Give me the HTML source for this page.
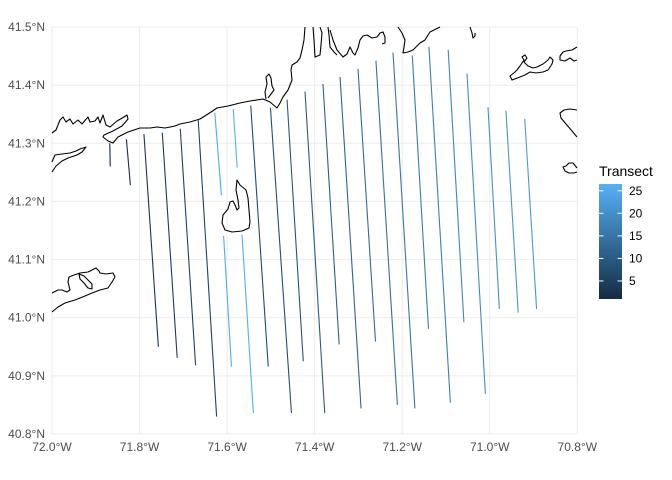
<!DOCTYPE html>
<html><head><meta charset="utf-8"><style>
body{margin:0;background:#fff;}
svg{display:block;font-family:"Liberation Sans",sans-serif;}
</style></head><body>
<svg id="chart" width="672" height="480" viewBox="0 0 672 480" xmlns="http://www.w3.org/2000/svg">
<g id="grid"></g>
<g id="coast" fill="none" stroke="#000" stroke-width="1.1" stroke-linejoin="round">
<path d="M52,133 L56,130 L60,120 L63,117 L66,122 L70,119 L73,124 L78,120 L82,124 L88,117 L90,122 L95,121 L98,117 L100,123 L103,115 L106,125 L110,127 L117,121 L124,117 L127,115 L128,119 L122,126 L113,131 L104,135 L103,137 L108,141 L113,143 L118,137 L128,132 L140,128 L150,128 L157,127 L165,128 L175,126 L180,124 L190,122 L200,119 L208,114 L217,108 L228,106 L240,103 L250,101 L263,99 L270,102 L277,108 L280,103 L283,97 L288,90 L292,80 L291,70 L292,65 L297,62 L300,58 L302,50 L304,40 L305,27"/>
<path d="M266,99 L265,92 L267,84 L266,77 L269,74 L271,78 L272,86 L274,90 L271,94 L268,98"/>
<path d="M52,162 L55,155 L62,154 L70,153 L76,151 L80,149 L86,147 L82,152 L77,155 L68,158 L62,161 L56,166 L52,172"/>
<path d="M237,180 L240,185 L246,190 L248,198 L249,210 L250,222 L249,228 L242,231 L232,232 L225,230 L222,223 L223,215 L228,209 L230,202 L233,201 L235,205 L237,210 L239,208 L238,200 L236,190 Z"/>
<path d="M52,293 L58,290 L62,290 L67,292 L70,290 L68,282 L69,277 L74,275 L80,273 L88,272 L96,268 L99,271 L100,273 L106,274 L113,273 L115,277 L112,282 L108,288 L100,290 L92,293 L85,296 L75,300 L65,303 L58,307 L52,312"/>
<path d="M79,274 L84,276 L88,280 L92,284 L92,289 L88,288 L84,283 L80,279 Z"/>
<path d="M330,30 L333,40 L337,50 L343,57 L347,54 L350,47 L353,53 L355,55 L358,48 L360,40 L363,36 L367,35 L372,38 L377,37 L380,33 L383,32 L385,37 L385,43 L382,44"/>
<path d="M398,27 L402,33 L405,40 L404,47 L403,53 L408,52 L413,50 L417,46 L420,43 L425,40 L428,35 L430,32 L436,29 L440,27"/>
<path d="M470,27 L472,33 L473,38 L475,36 L475,33"/>
<path d="M313,27 L314,40 L315,57 L320,55 L321,45 L322,33 L320,27"/>
<path d="M328,27 L329,35 L330,47 L334,52 L337,55"/>
<path d="M512,80 L510,76 L515,72 L517,70 L520,66 L522,63 L524,60 L522,57 L525,55 L527,58 L524,62 L528,66 L533,68 L537,67 L543,64 L548,60 L550,57 L553,60 L552,64 L548,70 L543,72 L536,73 L530,72 L525,75 L520,77 Z"/>
<path d="M577,47 L572,50 L566,51 L563,52 L560,56 L560,60 L565,61 L570,58 L574,61 L577,60"/>
<path d="M577,110 L570,109 L564,110 L560,113 L561,118 L566,124 L572,131 L577,137"/>
<path d="M577,168 L573,163 L569,163 L566,166 L563,167 L565,171 L569,173 L574,173 L577,172"/>
</g>
<g id="lines"></g>
<g id="axes"></g>
<g id="legend">
<defs><linearGradient id="cb" x1="0" y1="1" x2="0" y2="0"><stop offset="0" stop-color="#132B43"/><stop offset="1" stop-color="#56B1F7"/></linearGradient></defs>
<text x="599" y="176" font-size="14" fill="#000">Transect</text>
<rect x="599" y="184" width="23" height="115" fill="url(#cb)"/>
<g id="cbticks"></g>
</g>
</svg>
<script>
// data (lon/lat start & end of each transect, transect number)
const transectIds = [1,2,3,4,5,6,25,25,26,26,7,8,9,10,11,12,13,14,15,16,17,18,19,20,21,22];
const lonStart = [-71.868,-71.830,-71.790,-71.748,-71.707,-71.666,-71.628,-71.608,-71.586,-71.566,-71.546,-71.501,-71.463,-71.422,-71.381,-71.342,-71.301,-71.260,-71.221,-71.177,-71.139,-71.095,-71.052,-71.004,-70.963,-70.920];
const latStart = [41.300,41.307,41.316,41.318,41.325,41.340,41.352,41.141,41.359,41.143,41.365,41.361,41.375,41.389,41.402,41.414,41.428,41.442,41.456,41.451,41.466,41.461,41.420,41.362,41.356,41.342];
const lonEnd = [-71.867,-71.821,-71.757,-71.714,-71.672,-71.624,-71.613,-71.590,-71.577,-71.540,-71.506,-71.453,-71.426,-71.377,-71.344,-71.294,-71.261,-71.211,-71.171,-71.140,-71.090,-71.059,-71.010,-70.978,-70.935,-70.893];
const latEnd = [41.260,41.228,40.950,40.931,40.918,40.830,41.211,40.916,41.258,40.836,40.916,40.836,40.925,40.836,40.954,40.844,40.959,40.850,40.844,40.981,40.854,40.992,40.869,41.015,41.009,41.015];
const lonTicks = [-72.0,-71.8,-71.6,-71.4,-71.2,-71.0,-70.8];
const lonTickLabels = ["72.0°W","71.8°W","71.6°W","71.4°W","71.2°W","71.0°W","70.8°W"];
const latTicks = [40.8,40.9,41.0,41.1,41.2,41.3,41.4,41.5];
const latTickLabels = ["40.8°N","40.9°N","41.0°N","41.1°N","41.2°N","41.3°N","41.4°N","41.5°N"];
const legendTicks = [5,10,15,20,25];
const colorMin = 1, colorMax = 26.5;

const NS="http://www.w3.org/2000/svg";
const X0=52, X1=577.3, Y0=434, Y1=27;
const x = lon => X0 + (lon+72.0)/1.2*(X1-X0);
const y = lat => Y0 - (lat-40.8)/0.7*(Y0-Y1);
const cbY = v => 299 - (v-colorMin)/(colorMax-colorMin)*115;
function col(v){
  const t=Math.max(0,Math.min(1,(v-colorMin)/(colorMax-colorMin)));
  const a=[0x13,0x2B,0x43], b=[0x56,0xB1,0xF7];
  return "rgb("+a.map((c,i)=>Math.round(c+(b[i]-c)*t)).join(",")+")";
}
function mk(tag,attrs,parent){const e=document.createElementNS(NS,tag);for(const k in attrs)e.setAttribute(k,attrs[k]);parent.appendChild(e);return e;}

const grid=document.getElementById('grid');
lonTicks.forEach(v=>{
  const l=mk('line',{x1:x(v),x2:x(v),y1:Y1,y2:Y0,stroke:'#EBEBEB','stroke-width':1},grid);
  
  
});
latTicks.forEach(v=>{
  const l=mk('line',{x1:X0,x2:X1,y1:y(v),y2:y(v),stroke:'#EBEBEB','stroke-width':1},grid);
  
  
});

const lines=document.getElementById('lines');
transectIds.forEach((id,i)=>{
  const l=mk('line',{x1:x(lonStart[i]),y1:y(latStart[i]),x2:x(lonEnd[i]),y2:y(latEnd[i]),stroke:col(id),'stroke-width':1.1},lines);
  
  
});

const axes=document.getElementById('axes');
lonTicks.forEach((v,i)=>{
  const t=mk('text',{x:x(v),y:451,'text-anchor':'middle','font-size':12,fill:'#4D4D4D'},axes);
  t.textContent=lonTickLabels[i];
  
  
});
latTicks.forEach((v,i)=>{
  const t=mk('text',{x:45,y:y(v)+4,'text-anchor':'end','font-size':12,fill:'#4D4D4D'},axes);
  t.textContent=latTickLabels[i];
  
  
});

const cbt=document.getElementById('cbticks');
legendTicks.forEach(v=>{
  const yy=cbY(v);
  mk('line',{x1:599,x2:603.5,y1:yy,y2:yy,stroke:'#fff','stroke-width':1},cbt);
  mk('line',{x1:617.5,x2:622,y1:yy,y2:yy,stroke:'#fff','stroke-width':1},cbt);
  const t=mk('text',{x:629,y:yy+4,'font-size':12,fill:'#000'},cbt);
  t.textContent=v;
  
  
});
</script>
</body></html>
